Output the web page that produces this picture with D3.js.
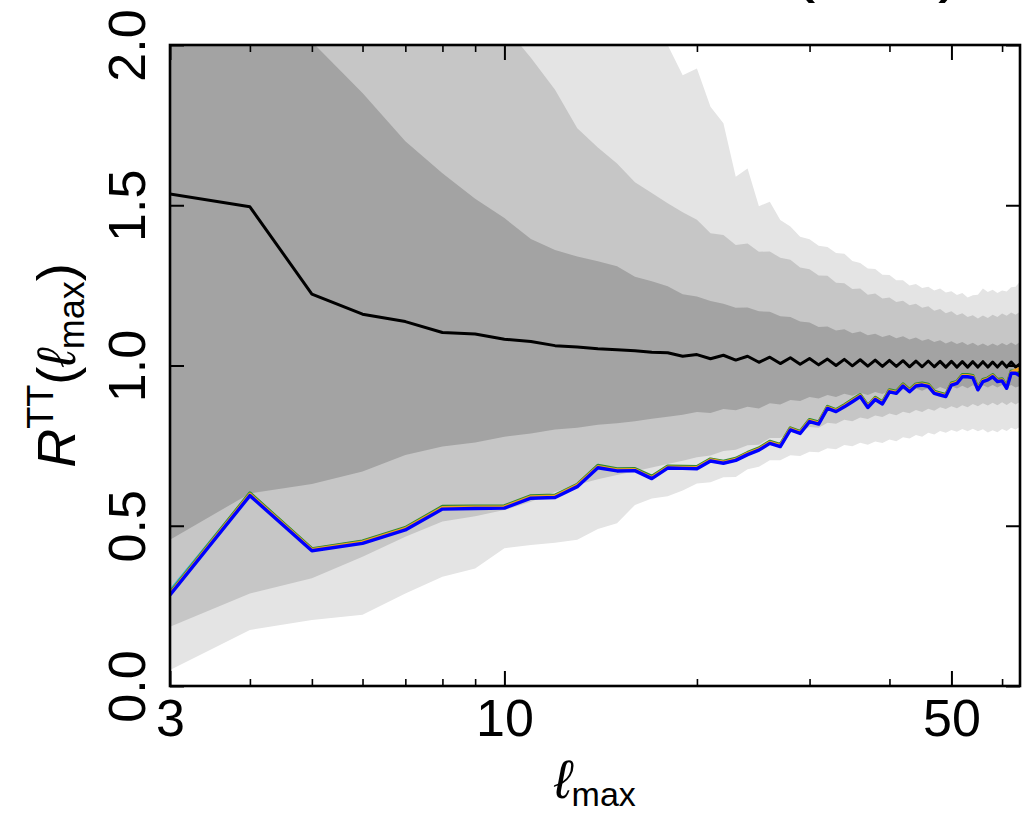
<!DOCTYPE html>
<html>
<head>
<meta charset="utf-8">
<script src="https://cdn.jsdelivr.net/npm/d3@7/dist/d3.min.js"></script>
<style>
  body { margin: 0; background: #fff; }
  svg { display: block; }
  text { font-family: "Liberation Sans", Arial, sans-serif; fill: #000; }
</style>
</head>
<body>
<svg id="chart" width="1025" height="817"></svg>
<script>
// multipole cut-off
const lmax = [3,4,5,6,7,8,9,10,11,12,13,14,15,16,17,18,19,20,21,22,23,24,25,26,27,28,29,30,31,32,33,
  34,35,36,37,38,39,40,41,42,43,44,45,46,47,48,49,50,51,52,53,54,55,56,57,58,59,60,61,62,63,64];

// ensemble mean of R^TT
const meanR = [1.535,1.495,1.223,1.160,1.137,1.103,1.098,1.082,1.075,1.062,1.058,1.052,1.049,1.046,1.041,1.040,
  1.029,1.034,1.021,1.032,1.017,1.029,1.010,1.026,1.006,1.024,1.004,1.022,1.002,1.020,1.000,1.019,0.999,1.018,
  0.998,1.017,0.997,1.016,0.997,1.015,0.996,1.014,0.996,1.014,0.996,1.013,0.995,1.013,0.995,1.012,0.995,1.012,
  0.995,1.012,0.995,1.011,0.995,1.011,0.995,1.011,0.995,1.005];

// 68% / 95% / 99.7% ranges of the simulations
const band1Lo = [0.456,0.601,0.630,0.669,0.721,0.747,0.760,0.778,0.788,0.800,0.806,0.815,0.820,0.826,0.834,0.840,
  0.846,0.855,0.852,0.864,0.860,0.871,0.866,0.882,0.878,0.892,0.889,0.902,0.897,0.908,0.902,0.912,0.906,0.915,
  0.908,0.917,0.911,0.921,0.915,0.925,0.918,0.928,0.921,0.930,0.923,0.933,0.926,0.935,0.928,0.937,0.929,0.938,
  0.930,0.938,0.931,0.939,0.931,0.939,0.931,0.939,0.931,0.937];
const band1Hi = [2.60,2.30,2.01,1.85,1.70,1.60,1.52,1.46,1.395,1.36,1.34,1.325,1.31,1.277,1.263,1.247,
  1.222,1.215,1.201,1.193,1.180,1.181,1.169,1.168,1.154,1.151,1.137,1.134,1.120,1.122,1.109,1.113,1.101,1.106,
  1.094,1.099,1.089,1.095,1.085,1.091,1.081,1.087,1.077,1.083,1.073,1.079,1.069,1.076,1.067,1.073,1.064,1.071,
  1.062,1.069,1.061,1.069,1.062,1.070,1.063,1.072,1.064,1.073];
const band2Lo = [0.185,0.289,0.336,0.403,0.466,0.513,0.530,0.549,0.575,0.605,0.628,0.645,0.658,0.670,0.682,0.693,
  0.703,0.714,0.719,0.733,0.737,0.751,0.753,0.774,0.774,0.792,0.792,0.808,0.806,0.821,0.818,0.831,0.826,0.838,
  0.833,0.844,0.839,0.850,0.845,0.856,0.851,0.861,0.855,0.865,0.859,0.870,0.864,0.873,0.867,0.876,0.870,0.880,
  0.873,0.882,0.875,0.884,0.876,0.885,0.877,0.886,0.878,0.887];
const band2Hi = [3.20,2.90,2.70,2.50,2.35,2.25,2.15,2.06,1.96,1.86,1.74,1.68,1.63,1.572,1.538,1.506,
  1.478,1.455,1.413,1.407,1.376,1.381,1.355,1.356,1.336,1.330,1.306,1.300,1.281,1.280,1.258,1.257,1.239,1.240,
  1.221,1.225,1.209,1.212,1.198,1.202,1.188,1.193,1.180,1.185,1.171,1.176,1.163,1.169,1.157,1.163,1.151,1.157,
  1.147,1.156,1.148,1.158,1.151,1.162,1.155,1.165,1.158,1.168];
const band3Lo = [0.050,0.175,0.206,0.222,0.289,0.341,0.367,0.430,0.440,0.447,0.456,0.490,0.508,0.565,0.585,0.592,
  0.610,0.632,0.636,0.651,0.652,0.676,0.684,0.704,0.704,0.720,0.718,0.731,0.729,0.742,0.739,0.752,0.748,0.759,
  0.753,0.763,0.758,0.769,0.764,0.776,0.772,0.783,0.778,0.790,0.785,0.796,0.790,0.799,0.793,0.802,0.795,0.803,
  0.795,0.801,0.791,0.798,0.792,0.802,0.796,0.806,0.800,0.809];
const band3Hi = [3.80,3.50,3.30,3.10,2.95,2.80,2.70,2.60,2.50,2.42,2.35,2.28,2.20,2.15,2.08,2.00,
  1.906,1.927,1.807,1.756,1.589,1.615,1.497,1.511,1.454,1.434,1.402,1.394,1.374,1.370,1.351,1.349,1.326,1.320,
  1.303,1.301,1.283,1.282,1.266,1.266,1.250,1.254,1.242,1.246,1.234,1.240,1.228,1.232,1.220,1.226,1.212,1.219,
  1.221,1.240,1.229,1.236,1.226,1.234,1.231,1.244,1.246,1.262];

// R^TT measured on the sky maps
const mapCyan = [0.296,0.600,0.426,0.450,0.491,0.557,0.558,0.559,0.590,0.592,0.626,0.685,0.674,0.675,0.650,0.684,
  0.682,0.681,0.705,0.698,0.707,0.725,0.739,0.760,0.750,0.802,0.791,0.828,0.820,0.869,0.859,0.874,0.890,0.906,
  0.872,0.897,0.883,0.921,0.916,0.939,0.921,0.939,0.942,0.938,0.916,0.911,0.906,0.942,0.947,0.968,0.968,0.965,
  0.927,0.953,0.958,0.968,0.953,0.955,0.932,0.979,0.979,0.971];
const mapGreen = [0.290,0.602,0.428,0.452,0.494,0.560,0.561,0.562,0.593,0.595,0.629,0.688,0.677,0.678,0.654,0.686,
  0.685,0.684,0.708,0.701,0.710,0.728,0.742,0.763,0.753,0.805,0.794,0.831,0.823,0.872,0.862,0.877,0.893,0.909,
  0.875,0.900,0.886,0.924,0.919,0.942,0.924,0.942,0.945,0.941,0.919,0.914,0.909,0.945,0.950,0.971,0.971,0.968,
  0.930,0.956,0.961,0.971,0.956,0.958,0.935,0.982,0.982,0.975];
const mapOrange = [0.287,0.598,0.425,0.449,0.491,0.556,0.558,0.559,0.590,0.592,0.626,0.684,0.674,0.675,0.650,0.683,
  0.682,0.681,0.705,0.698,0.707,0.725,0.739,0.760,0.750,0.802,0.791,0.828,0.820,0.869,0.859,0.874,0.890,0.906,
  0.872,0.897,0.883,0.921,0.916,0.939,0.921,0.939,0.942,0.938,0.916,0.911,0.906,0.942,0.947,0.968,0.968,0.965,
  0.927,0.953,0.958,0.968,0.953,0.955,0.932,0.979,0.985,0.990];
const mapBlue = [0.284,0.594,0.422,0.445,0.487,0.552,0.554,0.555,0.586,0.588,0.622,0.681,0.671,0.672,0.647,0.680,
  0.679,0.678,0.702,0.695,0.704,0.722,0.736,0.757,0.747,0.799,0.788,0.825,0.817,0.866,0.856,0.871,0.887,0.903,
  0.869,0.894,0.880,0.918,0.913,0.936,0.918,0.936,0.939,0.935,0.913,0.908,0.903,0.939,0.944,0.965,0.965,0.962,
  0.924,0.950,0.955,0.965,0.950,0.952,0.929,0.976,0.976,0.968];

const majorX = [3, 10, 50];
const minorX = [4, 5, 6, 7, 8, 9, 20, 30, 40, 60];
const yTicks = [0, 0.5, 1.0, 1.5, 2.0];

const svg = d3.select("#chart");
const pLeft = 170, pRight = 1020, pTop = 45, pBottom = 686;

const x = d3.scaleLog().domain([3, 64]).range([pLeft, pRight]);
const y = d3.scaleLinear().domain([0, 2]).range([pBottom, pTop]);

svg.append("defs").append("clipPath").attr("id", "plot-clip")
  .append("rect").attr("x", pLeft).attr("y", pTop)
  .attr("width", pRight - pLeft).attr("height", pBottom - pTop);

const plot = svg.append("g").attr("clip-path", "url(#plot-clip)");

const band = (lo, hi) => d3.area()
  .x((d, i) => x(lmax[i]))
  .y0((d, i) => y(lo[i]))
  .y1((d, i) => y(hi[i]))(lmax);

plot.append("path").attr("d", band(band3Lo, band3Hi)).attr("fill", "#e4e4e4");
plot.append("path").attr("d", band(band2Lo, band2Hi)).attr("fill", "#c6c6c6");
plot.append("path").attr("d", band(band1Lo, band1Hi)).attr("fill", "#a3a3a3");

const line = vals => d3.line()
  .x((d, i) => x(lmax[i]))
  .y((d, i) => y(vals[i]))(lmax);

plot.append("path").attr("d", line(meanR))
  .attr("fill", "none").attr("stroke", "#000").attr("stroke-width", 3)
  .attr("stroke-linejoin", "round");

[[mapCyan, "#36b3d9"], [mapGreen, "#2e8b2e"], [mapOrange, "#f0a020"], [mapBlue, "#0000ff"]]
  .forEach(([vals, col]) => {
    plot.append("path").attr("d", line(vals))
      .attr("fill", "none").attr("stroke", col).attr("stroke-width", 3.4)
      .attr("stroke-linejoin", "round");
  });

// ticks pointing inward on all four sides
function styleTicks(g, w) {
  g.select(".domain").remove();
  g.selectAll(".tick line").attr("stroke", "#000").attr("stroke-width", w);
}

svg.append("g").attr("transform", `translate(0,${pBottom})`)
  .call(d3.axisBottom(x).tickValues(minorX).tickSize(-7).tickFormat(""))
  .call(g => styleTicks(g, 1.6));
svg.append("g").attr("transform", `translate(0,${pTop})`)
  .call(d3.axisTop(x).tickValues(minorX).tickSize(-7).tickFormat(""))
  .call(g => styleTicks(g, 1.6));

svg.append("g").attr("transform", `translate(0,${pBottom})`)
  .call(d3.axisBottom(x).tickValues(majorX).tickSize(-15).tickFormat(d3.format("d")))
  .call(g => styleTicks(g, 2))
  .call(g => g.selectAll(".tick text")
    .attr("y", 50).attr("dy", 0)
    .attr("font-family", "Liberation Sans, Arial, sans-serif")
    .attr("font-size", 52).attr("fill", "#000"));
svg.append("g").attr("transform", `translate(0,${pTop})`)
  .call(d3.axisTop(x).tickValues(majorX).tickSize(-15).tickFormat(""))
  .call(g => styleTicks(g, 2));

svg.append("g").attr("transform", `translate(${pLeft},0)`)
  .call(d3.axisLeft(y).tickValues(yTicks).tickSize(-14).tickFormat(d3.format(".1f")))
  .call(g => styleTicks(g, 2))
  .call(g => g.selectAll(".tick text")
    .attr("x", 0).attr("y", -25).attr("dy", 0)
    .attr("text-anchor", "middle")
    .attr("transform", "rotate(-90)")
    .attr("font-family", "Liberation Sans, Arial, sans-serif")
    .attr("font-size", 52).attr("fill", "#000"));
svg.append("g").attr("transform", `translate(${pRight},0)`)
  .call(d3.axisRight(y).tickValues(yTicks).tickSize(-14).tickFormat(""))
  .call(g => styleTicks(g, 2));

// frame
svg.append("rect").attr("x", pLeft).attr("y", pTop)
  .attr("width", pRight - pLeft).attr("height", pBottom - pTop)
  .attr("fill", "none").attr("stroke", "#000").attr("stroke-width", 2.6);

// x label: ℓ_max
const xl = svg.append("text").attr("x", (pLeft + pRight) / 2).attr("y", 798)
  .attr("text-anchor", "middle").attr("font-size", 54);
xl.append("tspan").attr("font-style", "italic").text("ℓ");
xl.append("tspan").attr("font-size", 34).attr("dy", 8).text("max");

// y label: R^TT(ℓ_max)
const yl = svg.append("text")
  .attr("transform", `translate(75,${(pTop + pBottom) / 2}) rotate(-90)`)
  .attr("text-anchor", "middle").attr("font-size", 54);
yl.append("tspan").attr("font-style", "italic").text("R");
yl.append("tspan").attr("font-size", 36).attr("dy", -22).text("TT");
yl.append("tspan").attr("dy", 22).text("(");
yl.append("tspan").attr("font-style", "italic").text("ℓ");
yl.append("tspan").attr("font-size", 36).attr("dy", 9).text("max");
yl.append("tspan").attr("dy", -9).text(")");

// panel title, running off the top edge of the figure
const tt = svg.append("text").attr("x", 963).attr("y", -12)
  .attr("text-anchor", "end").attr("font-size", 75);
tt.append("tspan").attr("font-style", "italic").text("R");
tt.append("tspan").attr("font-size", 52).attr("dy", -30).text("TT");
tt.append("tspan").attr("dy", 30).text("(");
tt.append("tspan").attr("font-style", "italic").text("ℓ");
tt.append("tspan").attr("font-size", 52).attr("dy", 11).text("max");
tt.append("tspan").attr("dy", -11).text(")");
</script>
</body>
</html>
